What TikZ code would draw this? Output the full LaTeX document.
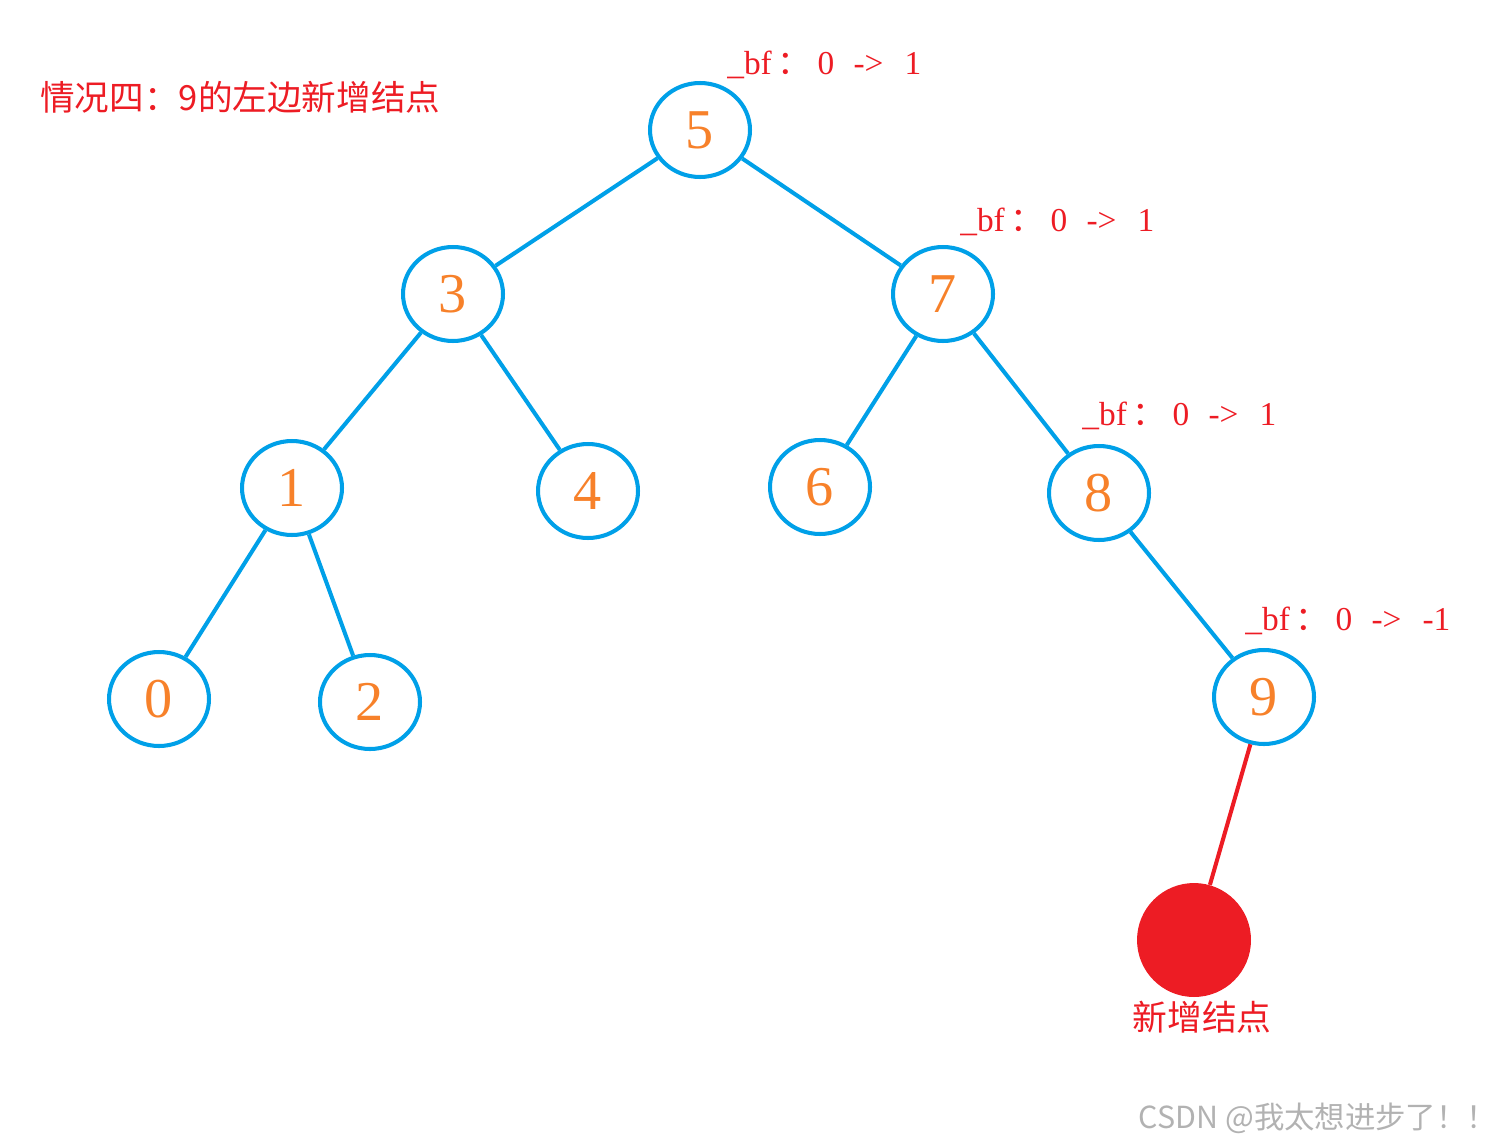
\documentclass[tikz,border=0pt]{standalone}
\usepackage{fontspec}
\setmainfont{Liberation Serif}
\newfontfamily\cjk{Noto Sans CJK SC}
\usepackage{tikz}
\usetikzlibrary{shapes.geometric}
\definecolor{treeblue}{HTML}{00A0E8}
\definecolor{numorange}{HTML}{F7812A}
\definecolor{newred}{HTML}{ED1C24}
\newcommand{\bfchg}[1]{\_bf\hspace{3pt}{\cjk ：}\hspace{4pt}0\hspace{11pt}-{}>\hspace{12pt}#1}

\begin{document}
\begin{tikzpicture}[x=0.02cm,y=-0.02cm,
  vert/.style={ellipse,draw=treeblue,line width=2.3pt,minimum width=2cm,minimum height=1.88cm,inner sep=0pt,text=numorange,font=\fontsize{32}{32}\selectfont},
  edge/.style={treeblue,line width=2.3pt},
  bflab/.style={anchor=west,text=newred,inner sep=0pt,font=\fontsize{19}{19}\selectfont}]
  \useasboundingbox (0,0) rectangle (1503,1146);
  % title
  \node[anchor=west,inner sep=0pt,text=newred,font=\cjk\fontsize{19.7}{19.7}\selectfont] (title) at (40,97) {情况四：9的左边新增结点};
  % tree
  \node[vert] (n5) at (700,130) {5};
  \node[vert] (n3) at (453,294) {3};
  \node[vert] (n7) at (943,294) {7};
  \node[vert] (n1) at (292,488) {1};
  \node[vert] (n4) at (588,491) {4};
  \node[vert] (n6) at (820,487) {6};
  \node[vert] (n8) at (1099,493) {8};
  \node[vert] (n0) at (159,699) {0};
  \node[vert] (n2) at (370,702) {2};
  \node[vert] (n9) at (1264,697) {9};
  \node[circle,fill=newred,minimum size=2.28cm,inner sep=0pt] (new) at (1194,940) {};
  \foreach \a/\b in {n5/n3,n5/n7,n3/n1,n3/n4,n7/n6,n7/n8,n1/n0,n1/n2,n8/n9}
    \draw[edge] (\a) -- (\b);
  \draw[newred,line width=2.3pt] (n9) -- (new);
  % balance factors
  \node[bflab] (bf5) at (727,65) {\bfchg{1}};
  \node[bflab] (bf7) at (960,222) {\bfchg{1}};
  \node[bflab] (bf8) at (1082,416) {\bfchg{1}};
  \node[bflab] (bf9) at (1245,621) {\bfchg{-1}};
  \node[text=newred,font=\cjk\fontsize{19.8}{19.8}\selectfont] (newlab) at (1202,1017) {新增结点};
  \node[inner sep=0pt,text=black!30,font=\cjk\fontsize{17.3}{17.3}\selectfont] (mark) at (1318,1118) {CSDN @我太想进步了！！};
\end{tikzpicture}
\end{document}
